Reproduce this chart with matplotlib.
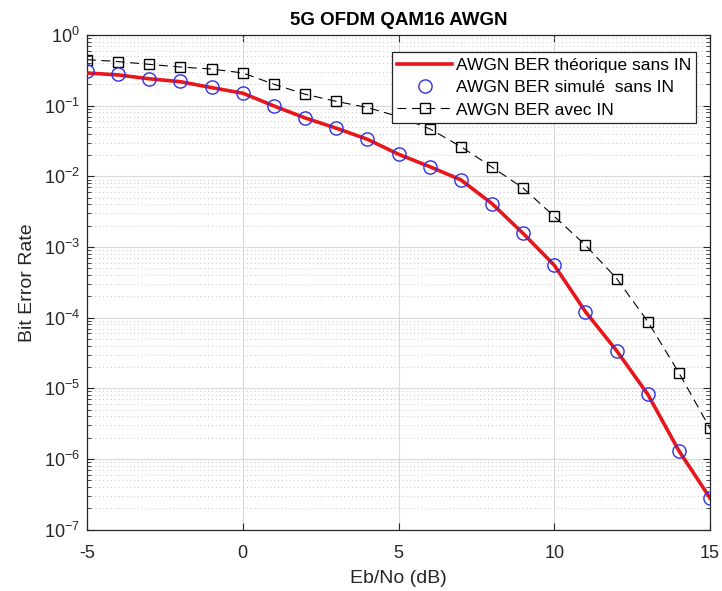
import matplotlib.pyplot as plt
import numpy as np
from matplotlib.ticker import LogLocator, NullFormatter

plt.rcParams['font.family'] = ['Liberation Sans', 'DejaVu Sans']
plt.rcParams['axes.unicode_minus'] = False

# Eb/No sweep (dB) and BER curves
ebno_db = [-5, -4, -3, -2, -1, 0, 1, 2, 3, 4, 5, 6, 7, 8, 9, 10, 11, 12, 13, 14, 15]

ber_theory = [0.29, 0.272, 0.240, 0.218, 0.180, 0.150, 0.099, 0.067, 0.048, 0.0334,
              0.0205, 0.0137, 0.0089, 0.0041, 0.00155, 5.5e-4, 1.21e-4, 3.4e-5,
              8.2e-6, 1.3e-6, 2.78e-7]

ber_sim = [0.306, 0.278, 0.242, 0.221, 0.182, 0.151, 0.099, 0.067, 0.048, 0.0334,
           0.0205, 0.0137, 0.0089, 0.0041, 0.00155, 5.5e-4, 1.21e-4, 3.4e-5,
           8.2e-6, 1.3e-6, 2.78e-7]

ber_in = [0.448, 0.42, 0.384, 0.352, 0.33, 0.29, 0.201, 0.145, 0.115, 0.094,
          0.07, 0.047, 0.0263, 0.0135, 0.0068, 0.0027, 0.00106, 3.57e-4,
          8.8e-5, 1.65e-5, 2.7e-6]

fig = plt.figure(figsize=(7.22, 5.91), dpi=100)
ax = fig.add_axes([0.1205, 0.104, 0.863, 0.8368])

ax.semilogy(ebno_db, ber_theory, '-', color='#e8161a', lw=2.6,
            label='AWGN BER théorique sans IN', zorder=3)
ax.semilogy(ebno_db, ber_sim, 'o', color='#3030e0', mfc='none', ms=9.5, mew=1.0,
            label='AWGN BER simulé  sans IN', zorder=4)
ax.semilogy(ebno_db, ber_in, '--s', color='black', mfc='none', ms=7.5, mew=1.0,
            lw=0.8, dashes=(8, 5), label='AWGN BER avec IN', zorder=2)

ax.set_xlim(-5, 15)
ax.set_ylim(1e-7, 1e0)
ax.set_xticks([-5, 0, 5, 10, 15])
ax.yaxis.set_major_locator(LogLocator(base=10, numticks=10))
ax.yaxis.set_minor_locator(LogLocator(base=10, subs=np.arange(2, 10), numticks=20))
ax.yaxis.set_minor_formatter(NullFormatter())

# matlab-like grid: solid majors, dotted minors on the log axis
ax.grid(True, which='major', color='#dadada', lw=0.8, ls='-')
ax.grid(True, which='minor', axis='y', color='#c4c4c4', lw=0.7, ls=(0, (1, 3)))
ax.set_axisbelow(True)

ax.tick_params(which='both', direction='in', top=True, right=True, colors='#262626',
               labelsize=13)
ax.tick_params(axis='x', which='major', pad=11)
ax.tick_params(axis='y', which='major', pad=5)
ax.tick_params(which='major', length=5, width=0.8)
ax.tick_params(which='minor', length=3, width=0.6)
for s in ax.spines.values():
    s.set_color('#262626')
    s.set_linewidth(0.9)

ax.set_title('5G OFDM QAM16 AWGN', fontsize=13.5, fontweight='bold', pad=7)
ax.set_xlabel('Eb/No (dB)', fontsize=14, color='#262626', labelpad=6)
ax.set_ylabel('Bit Error Rate', fontsize=14, color='#262626', labelpad=6)

leg = ax.legend(loc='upper right', bbox_to_anchor=(0.978, 0.965), fontsize=12.5,
                fancybox=False, framealpha=1, edgecolor='#262626',
                handlelength=3.2, borderpad=0.3, labelspacing=0.42,
                handletextpad=0.2, borderaxespad=0)
leg.get_frame().set_linewidth(0.9)

fig.savefig('out.png', dpi=100)
